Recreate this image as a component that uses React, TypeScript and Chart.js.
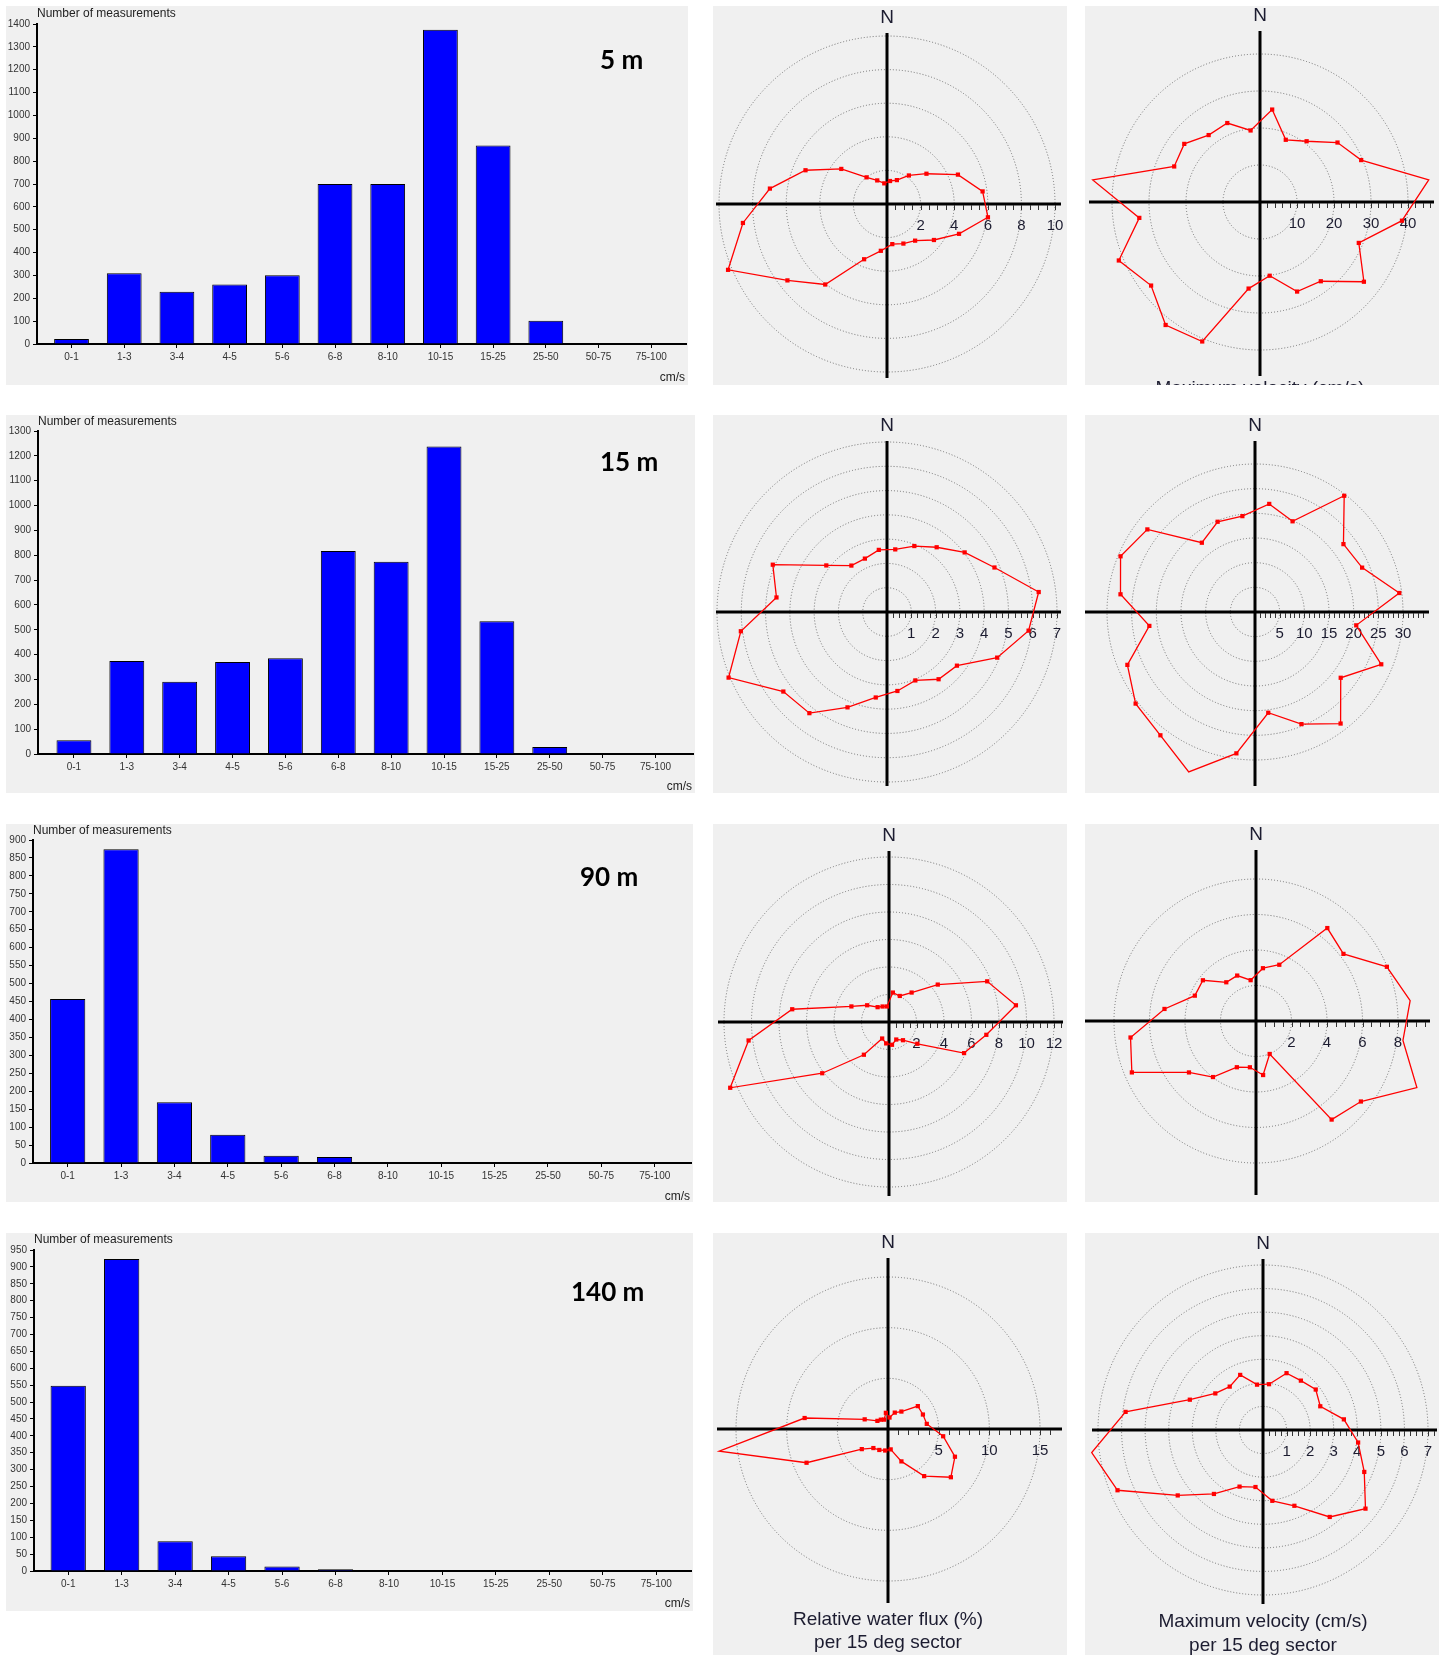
import React, { useEffect, useRef } from 'react';
import { Chart, registerables } from 'chart.js';

Chart.register(...registerables);

// ---------------- data ----------------
const speedClasses = ['0-1', '1-3', '3-4', '4-5', '5-6', '6-8', '8-10', '10-15', '15-25', '25-50', '50-75', '75-100'];

const count5m = [22, 310, 229, 260, 301, 700, 700, 1375, 868, 102, 0, 0];
const count15m = [55, 374, 291, 370, 385, 817, 774, 1238, 534, 28, 0, 0];
const count90m = [457, 874, 169, 79, 20, 17, 0, 0, 0, 0, 0, 0];
const count140m = [548, 923, 88, 44, 13, 5, 0, 0, 0, 0, 0, 0];

const sectorLabels = ['0-15', '15-30', '30-45', '45-60', '60-75', '75-90', '90-105', '105-120', '120-135', '135-150', '150-165', '165-180', '180-195', '195-210', '210-225', '225-240', '240-255', '255-270', '270-285', '285-300', '300-315', '315-330', '330-345', '345-360'];

const flux5m = [1.38, 1.54, 2.14, 2.96, 4.57, 5.74, 6.06, 4.64, 3.52, 2.75, 2.55, 2.41, 2.81, 3.56, 6.04, 7.47, 10.24, 8.65, 7.03, 5.25, 3.43, 2.0, 1.52, 1.24];
const vmax5m = [25.2, 18.2, 20.7, 26.4, 29.6, 46.0, 38.7, 28.9, 35.4, 27.0, 26.2, 20.1, 23.6, 40.8, 41.9, 37.1, 41.3, 32.9, 45.6, 25.1, 25.8, 22.8, 23.1, 19.5];

const flux15m = [2.6, 2.94, 3.36, 4.03, 4.79, 6.3, 5.88, 4.91, 3.63, 3.49, 3.05, 3.28, 3.55, 4.25, 5.25, 5.38, 7.06, 6.07, 4.59, 5.09, 3.15, 2.41, 2.38, 2.58];
const vmax15m = [22.1, 19.9, 29.7, 22.6, 23.5, 29.5, 20.7, 27.7, 21.9, 28.5, 24.6, 20.6, 28.9, 35.1, 31.5, 30.5, 28.0, 21.6, 27.5, 29.5, 27.5, 17.7, 19.8, 19.6];

const flux90m = [2.16, 2.05, 2.7, 4.47, 7.73, 9.31, 7.14, 5.91, 2.6, 1.67, 1.38, 1.67, 1.57, 1.3, 3.0, 6.12, 12.5, 10.3, 7.1, 2.96, 2.0, 1.36, 1.22, 1.14];
const vmax90m = [3.0, 3.43, 6.6, 6.21, 7.98, 8.76, 8.35, 9.81, 7.45, 7.0, 2.01, 3.07, 2.63, 2.82, 3.98, 4.76, 7.57, 7.13, 5.2, 3.73, 3.77, 2.75, 2.77, 2.32];

const flux140m = [1.14, 1.75, 2.17, 3.71, 3.73, 3.86, 5.49, 7.15, 7.82, 5.86, 3.46, 2.03, 2.14, 2.24, 2.37, 3.26, 8.7, 16.8, 8.3, 2.49, 1.32, 1.16, 1.0, 1.61];
const vmax140m = [1.96, 2.61, 2.64, 2.82, 2.63, 3.46, 4.07, 4.65, 5.48, 4.65, 3.48, 3.03, 2.44, 2.6, 3.42, 4.56, 6.68, 7.33, 5.88, 3.36, 2.55, 2.32, 2.53, 1.94];

const depthLabels = ['5 m', '15 m', '90 m', '140 m'];
const yAxisTitle = 'Number of measurements';
const xAxisUnit = 'cm/s';
const fluxCaption = ['Relative water flux (%)', 'per 15 deg sector'];
const velocityCaption = ['Maximum velocity (cm/s)', 'per 15 deg sector'];

// ---------------- styles / layout ----------------
const FONT = "'Liberation Sans', Arial, sans-serif";
const PANEL_BG = '#f0f0f0';
const TEXT = '#1c1c30';

type BarLayout = {
  x: number; y: number; w: number; h: number;
  axisX: number; zeroY: number; topY: number; axisEnd: number;
  xMin: number; xMax: number; yMax: number; yStep: number;
  depthX: number; depthY: number; nomY: number; cmsY: number;
};

type PolarLayout = {
  x: number; y: number; w: number; h: number;
  cx: number; cy: number; R: number; max: number; step: number; minor: number;
  captionY?: number[];
};

const barLayouts: BarLayout[] = [
  { x: 6, y: 6, w: 682, h: 379, axisX: 37, zeroY: 344, topY: 24, axisEnd: 686, xMin: -0.655, xMax: 11.66, yMax: 1400, yStep: 100, depthX: 600, depthY: 61, nomY: 14, cmsY: 378 },
  { x: 6, y: 415, w: 689, h: 378, axisX: 38, zeroY: 754, topY: 431, axisEnd: 693, xMin: -0.68, xMax: 11.71, yMax: 1300, yStep: 100, depthX: 600, depthY: 463, nomY: 422, cmsY: 787 },
  { x: 6, y: 824, w: 687, h: 378, axisX: 33, zeroY: 1163, topY: 840, axisEnd: 691, xMin: -0.65, xMax: 11.68, yMax: 900, yStep: 50, depthX: 580, depthY: 878, nomY: 831, cmsY: 1197 },
  { x: 6, y: 1233, w: 687, h: 378, axisX: 34, zeroY: 1571, topY: 1250, axisEnd: 691, xMin: -0.64, xMax: 11.65, yMax: 950, yStep: 50, depthX: 571, depthY: 1293, nomY: 1240, cmsY: 1604 },
];

const fluxLayouts: PolarLayout[] = [
  { x: 713, y: 6, w: 354, h: 379, cx: 887, cy: 204, R: 168, max: 10, step: 2, minor: 0.5 },
  { x: 713, y: 415, w: 354, h: 378, cx: 887, cy: 612, R: 170, max: 7, step: 1, minor: 0.25 },
  { x: 713, y: 824, w: 354, h: 378, cx: 889, cy: 1022, R: 165, max: 12, step: 2, minor: 0.5 },
  { x: 713, y: 1233, w: 354, h: 422, cx: 888, cy: 1429, R: 152, max: 15, step: 5, minor: 1, captionY: [1620, 1643] },
];

const velLayouts: PolarLayout[] = [
  { x: 1085, y: 6, w: 354, h: 379, cx: 1260, cy: 202, R: 148, max: 40, step: 10, minor: 2 },
  { x: 1085, y: 415, w: 354, h: 378, cx: 1255, cy: 612, R: 148, max: 30, step: 5, minor: 1 },
  { x: 1085, y: 824, w: 354, h: 378, cx: 1256, cy: 1021, R: 142, max: 8, step: 2, minor: 0.5 },
  { x: 1085, y: 1233, w: 354, h: 422, cx: 1263, cy: 1430, R: 165, max: 7, step: 1, minor: 0.25, captionY: [1622, 1646] },
];

const AX_UP = 171, AX_DOWN = 174, AX_LEFT = 171, AX_RIGHT = 174;

// ---------------- bar panel ----------------
function BarPanel({ L, values, depth }: { L: BarLayout; values: number[]; depth: string }) {
  const ref = useRef<HTMLCanvasElement>(null);
  useEffect(() => {
    const cLeft = L.axisX - L.x;
    const cTop = L.topY - L.y;
    const cBottom = L.zeroY - L.y;
    const cRight = L.axisEnd - L.x;
    const textPlugin = {
      id: 'barText',
      afterDraw(chart: any) {
        const ctx = chart.ctx;
        ctx.save();
        ctx.fillStyle = '#222';
        ctx.font = `12px ${FONT}`;
        ctx.textBaseline = 'middle';
        ctx.textAlign = 'left';
        ctx.fillText(yAxisTitle, cLeft, L.nomY - L.y);
        ctx.textAlign = 'right';
        ctx.fillText(xAxisUnit, cRight - 1, L.cmsY - L.y);
        ctx.fillStyle = '#000';
        ctx.font = `bold 26px Lato, 'Open Sans', sans-serif`;
        ctx.textAlign = 'left';
        ctx.fillText(depth, L.depthX - L.x, L.depthY - L.y);
        ctx.restore();
      },
    };
    const chart = new Chart(ref.current as HTMLCanvasElement, {
      type: 'bar',
      data: {
        datasets: [
          {
            data: values.map((v, i) => ({ x: i, y: v })),
            backgroundColor: '#0000ff',
            borderColor: '#000000',
            borderWidth: 1,
            barPercentage: 0.66,
            categoryPercentage: 1,
          },
        ],
      },
      options: {
        responsive: false,
        animation: false,
        devicePixelRatio: 1,
        layout: { padding: { left: 0, top: cTop, right: L.w - cRight, bottom: 0 } },
        plugins: { legend: { display: false }, tooltip: { enabled: false } },
        scales: {
          x: {
            type: 'linear',
            offset: false,
            min: L.xMin,
            max: L.xMax,
            afterBuildTicks: (s: any) => {
              s.ticks = speedClasses.map((_, i) => ({ value: i }));
            },
            afterFit: (s: any) => {
              s.height = L.h - cBottom;
            },
            ticks: {
              autoSkip: false,
              maxRotation: 0,
              padding: 3,
              color: '#333',
              font: { family: FONT, size: 10 },
              callback: (v: any) => speedClasses[v as number] ?? '',
            },
            grid: { offset: false, drawOnChartArea: false, drawTicks: true, tickLength: 4, color: '#000' },
            border: { display: true, color: '#000', width: 2 },
          },
          y: {
            min: 0,
            max: L.yMax,
            afterFit: (s: any) => {
              s.width = cLeft;
            },
            ticks: {
              stepSize: L.yStep,
              padding: 3,
              color: '#333',
              font: { family: FONT, size: 10 },
              callback: (v: any) => String(v),
            },
            grid: { drawOnChartArea: false, drawTicks: true, tickLength: 4, color: '#000' },
            border: { display: true, color: '#000', width: 2 },
          },
        },
      } as any,
      plugins: [textPlugin],
    });
    return () => chart.destroy();
  }, []);
  return (
    <div style={{ position: 'absolute', left: L.x, top: L.y, width: L.w, height: L.h, background: PANEL_BG }}>
      <canvas ref={ref} width={L.w} height={L.h} style={{ display: 'block' }} />
    </div>
  );
}

// ---------------- polar panel ----------------
function PolarPanel({ L, values, caption, cutCaption }: { L: PolarLayout; values: number[]; caption?: string[]; cutCaption?: string }) {
  const ref = useRef<HTMLCanvasElement>(null);
  useEffect(() => {
    const ox = L.cx - L.x;
    const oy = L.cy - L.y;
    const decor = {
      id: 'polarDecor',
      beforeDatasetsDraw(chart: any) {
        const r = chart.scales.r;
        const ctx = chart.ctx;
        const cx = r.xCenter;
        const cy = r.yCenter;
        ctx.save();
        ctx.strokeStyle = '#000';
        ctx.lineWidth = 3;
        ctx.beginPath();
        ctx.moveTo(cx - AX_LEFT, cy);
        ctx.lineTo(cx + AX_RIGHT, cy);
        ctx.moveTo(cx, cy - AX_UP);
        ctx.lineTo(cx, cy + AX_DOWN);
        ctx.stroke();
        ctx.lineWidth = 1;
        ctx.strokeStyle = '#333';
        ctx.beginPath();
        for (let i = 1; i < 400; i++) {
          const d = r.getDistanceFromCenterForValue(i * L.minor);
          if (d > AX_RIGHT - 2) break;
          const px = Math.round(cx + d) + 0.5;
          ctx.moveTo(px, cy + 1);
          ctx.lineTo(px, cy + 6);
        }
        ctx.stroke();
        ctx.fillStyle = TEXT;
        ctx.font = `15px ${FONT}`;
        ctx.textAlign = 'center';
        ctx.textBaseline = 'middle';
        for (const t of r.ticks) {
          if (t.value <= 0) continue;
          const d = r.getDistanceFromCenterForValue(t.value);
          ctx.fillText(String(t.value), cx + d, cy + 22);
        }
        ctx.restore();
      },
      afterDraw(chart: any) {
        const r = chart.scales.r;
        const ctx = chart.ctx;
        const cx = r.xCenter;
        const cy = r.yCenter;
        ctx.save();
        ctx.fillStyle = TEXT;
        ctx.font = `19px ${FONT}`;
        ctx.textAlign = 'center';
        ctx.textBaseline = 'middle';
        ctx.fillText('N', cx, cy - 186);
        if (caption && L.captionY) {
          caption.forEach((line, i) => ctx.fillText(line, cx, (L.captionY as number[])[i] - L.y));
        }
        if (cutCaption) {
          ctx.textBaseline = 'alphabetic';
          ctx.fillText(cutCaption, cx, L.h + 9);
        }
        ctx.restore();
      },
    };
    const chart = new Chart(ref.current as HTMLCanvasElement, {
      type: 'radar',
      data: {
        labels: sectorLabels,
        datasets: [
          {
            data: values,
            borderColor: '#ff0000',
            borderWidth: 1.3,
            backgroundColor: '#ff0000',
            pointBackgroundColor: '#ff0000',
            pointBorderColor: '#ff0000',
            pointStyle: 'rect',
            pointRadius: 3,
            pointBorderWidth: 0,
            fill: false,
            tension: 0,
            clip: false,
          } as any,
        ],
      },
      options: {
        responsive: false,
        animation: false,
        devicePixelRatio: 1,
        layout: {
          padding: { left: ox - L.R, top: oy - L.R, right: L.w - ox - L.R, bottom: L.h - oy - L.R },
        },
        plugins: { legend: { display: false }, tooltip: { enabled: false } },
        scales: {
          r: {
            min: 0,
            max: L.max,
            startAngle: 7.5,
            ticks: { display: false, stepSize: L.step },
            grid: { circular: true, color: '#6f6f6f', lineWidth: 1 },
            border: { dash: [1, 2] },
            angleLines: { display: false },
            pointLabels: { display: false },
          },
        },
      } as any,
      plugins: [decor],
    });
    return () => chart.destroy();
  }, []);
  return (
    <div style={{ position: 'absolute', left: L.x, top: L.y, width: L.w, height: L.h, background: PANEL_BG, overflow: 'hidden' }}>
      <canvas ref={ref} width={L.w} height={L.h} style={{ display: 'block' }} />
    </div>
  );
}

export default function App() {
  const counts = [count5m, count15m, count90m, count140m];
  const fluxes = [flux5m, flux15m, flux90m, flux140m];
  const vmaxes = [vmax5m, vmax15m, vmax90m, vmax140m];
  return (
    <div style={{ position: 'absolute', left: 0, top: 0, width: 1446, height: 1656, background: '#ffffff', overflow: 'hidden' }}>
      {barLayouts.map((L, i) => (
        <BarPanel key={'b' + i} L={L} values={counts[i]} depth={depthLabels[i]} />
      ))}
      {fluxLayouts.map((L, i) => (
        <PolarPanel key={'f' + i} L={L} values={fluxes[i]} caption={i === 3 ? fluxCaption : undefined} />
      ))}
      {velLayouts.map((L, i) => (
        <PolarPanel
          key={'v' + i}
          L={L}
          values={vmaxes[i]}
          caption={i === 3 ? velocityCaption : undefined}
          cutCaption={i === 0 ? velocityCaption[0] : undefined}
        />
      ))}
    </div>
  );
}
